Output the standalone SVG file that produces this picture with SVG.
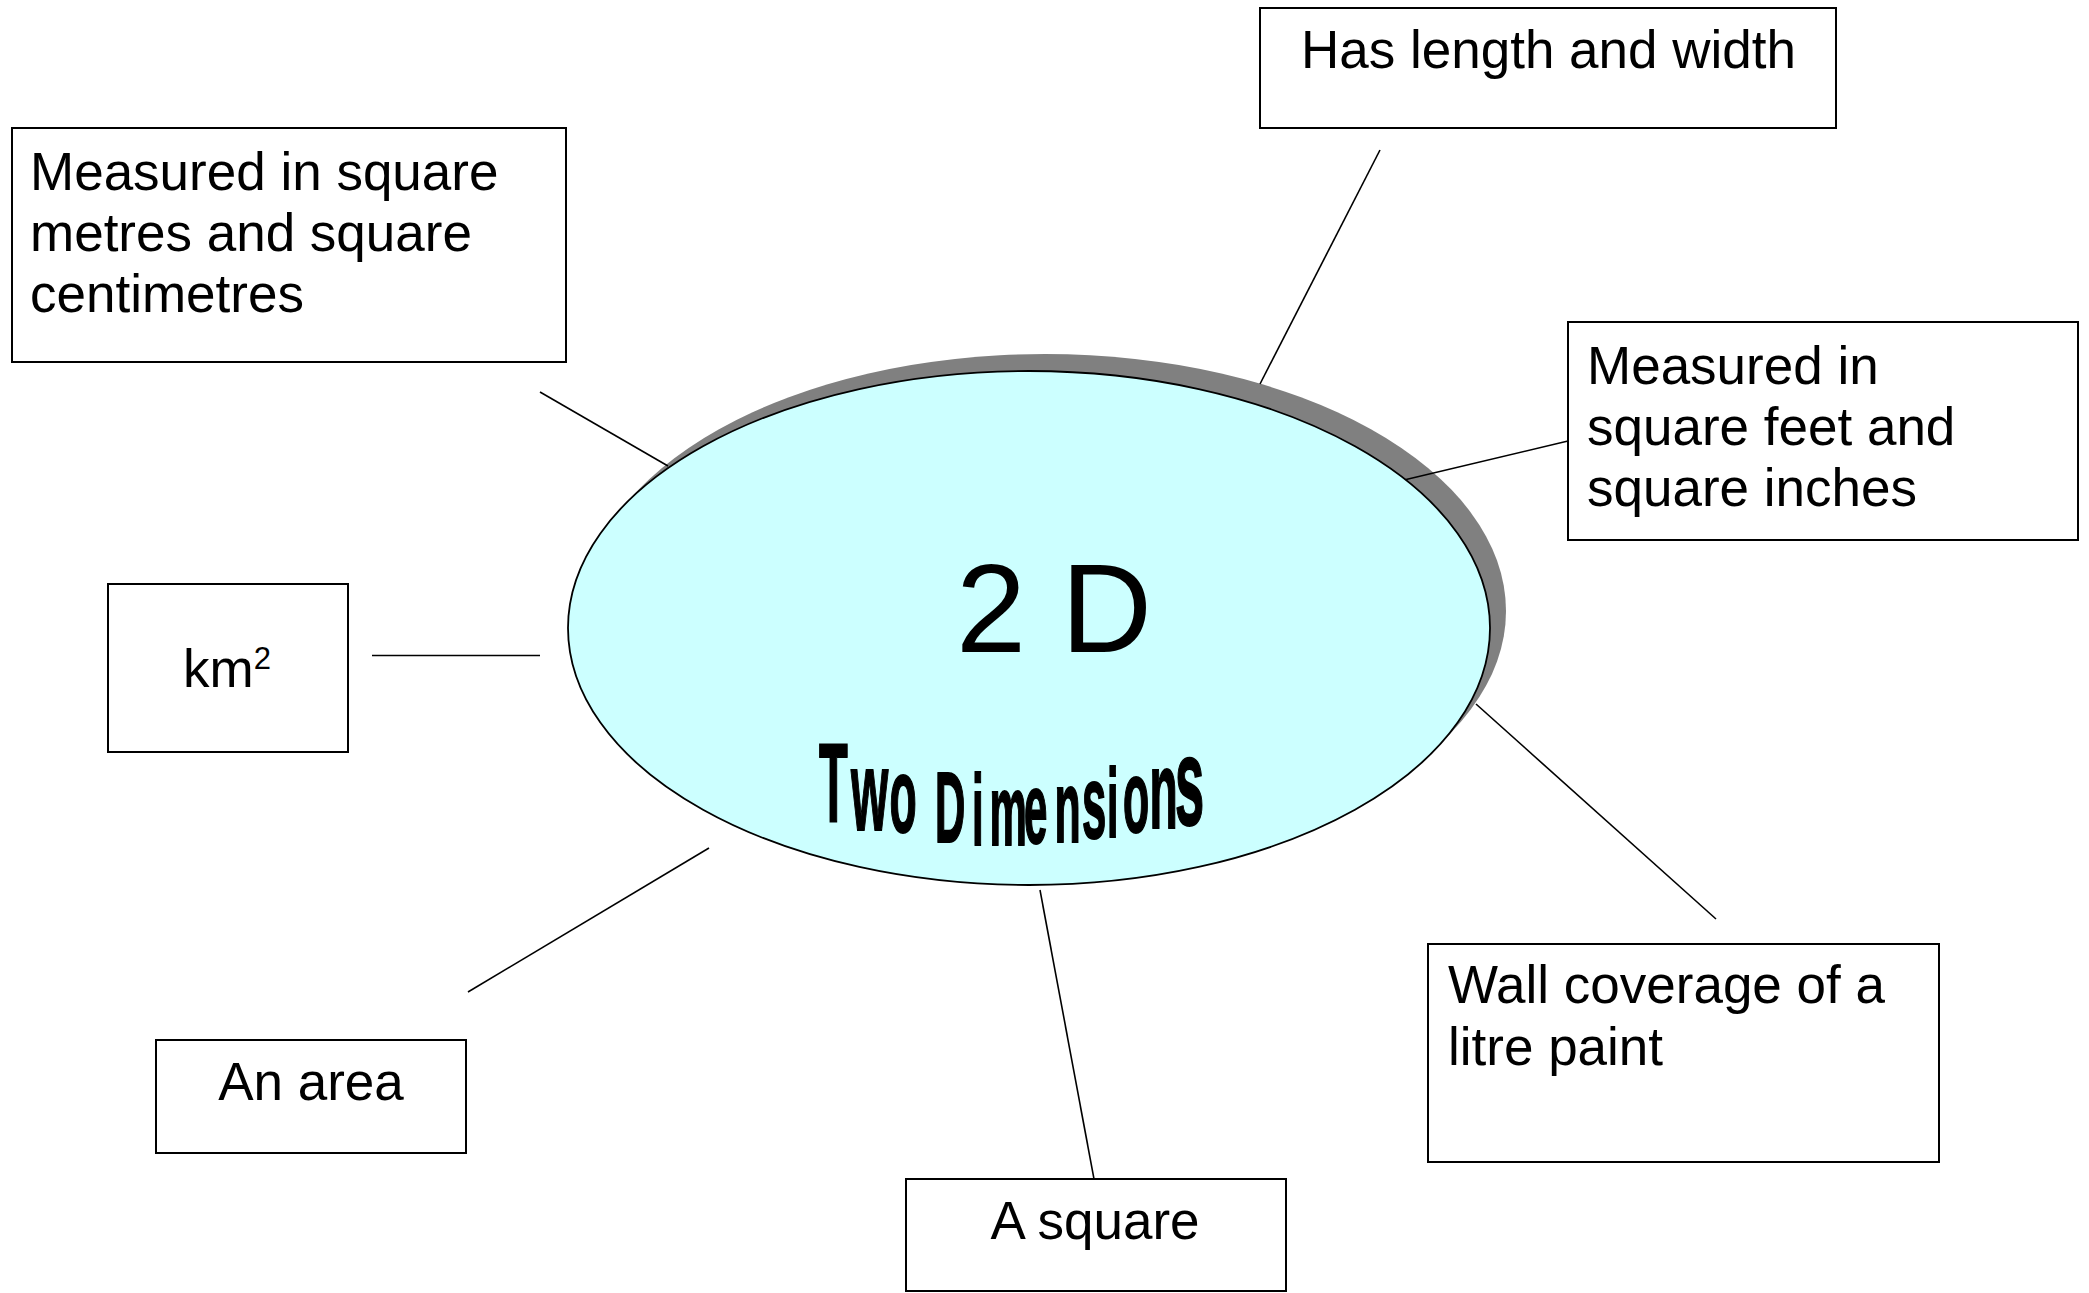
<svg xmlns="http://www.w3.org/2000/svg" width="2089" height="1293" viewBox="0 0 2089 1293">
<style>
.box{fill:#ffffff;stroke:#000000;stroke-width:2}
.lbl{font-family:"Liberation Sans",Arial,sans-serif;font-size:53px;fill:#000000}
.conn line{stroke:#000000;stroke-width:1.6}
.wa{font-family:"Liberation Sans",Arial,sans-serif;font-weight:bold;fill:#000000;stroke:#000000;stroke-width:2}
</style>
<rect x="0" y="0" width="2089" height="1293" fill="#ffffff"/>
<ellipse id="centre-shadow" cx="1045" cy="611" rx="461" ry="257" fill="#808080"/>
<g id="connectors" class="conn">
<line x1="540" y1="392" x2="668" y2="466"/>
<line x1="1380" y1="150" x2="1260" y2="384"/>
<line x1="1568" y1="441" x2="1404" y2="480"/>
<line x1="372" y1="655.5" x2="540" y2="655.5"/>
<line x1="468" y1="992" x2="709" y2="848"/>
<line x1="1040" y1="890" x2="1094" y2="1179"/>
<line x1="1476" y1="704" x2="1716" y2="919"/>
</g>
<g id="centre">
<ellipse cx="1029" cy="628" rx="461" ry="257" fill="#ccffff" stroke="#000000" stroke-width="1.8"/>
<text x="1054" y="652" text-anchor="middle" font-family="Liberation Sans, Arial, sans-serif" font-size="126">2 D</text>
<g transform="scale(0.42 1)">
<text class="wa"><tspan x="1950" y="821" font-size="112">T</tspan><tspan x="2026" y="830" font-size="114">w</tspan><tspan x="2118" y="832" font-size="106">o</tspan> <tspan x="2226" y="842" font-size="100">D</tspan><tspan x="2314" y="845" font-size="100">i</tspan><tspan x="2356" y="845" font-size="100">m</tspan><tspan x="2438" y="843" font-size="100">e</tspan><tspan x="2510.7" y="842" font-size="102">n</tspan><tspan x="2576" y="838" font-size="104">s</tspan><tspan x="2635.7" y="837" font-size="98">i</tspan><tspan x="2674" y="832" font-size="102">o</tspan><tspan x="2737" y="828" font-size="110">n</tspan><tspan x="2797.6" y="825" font-size="125">s</tspan></text>
</g>
</g>
<g id="node-metres">
<rect class="box" x="12" y="128" width="554" height="234"/>
<text class="lbl" x="30" y="190">Measured in square</text>
<text class="lbl" x="30" y="251">metres and square</text>
<text class="lbl" x="30" y="312">centimetres</text>
</g>
<g id="node-length">
<rect class="box" x="1260" y="8" width="576" height="120"/>
<text class="lbl" x="1548.5" y="68" text-anchor="middle">Has length and width</text>
</g>
<g id="node-feet">
<rect class="box" x="1568" y="322" width="510" height="218"/>
<text class="lbl" x="1587" y="384">Measured in</text>
<text class="lbl" x="1587" y="445">square feet and</text>
<text class="lbl" x="1587" y="506">square inches</text>
</g>
<g id="node-km2">
<rect class="box" x="108" y="584" width="240" height="168"/>
<text class="lbl" x="183" y="687">km<tspan font-size="31" dy="-18">2</tspan></text>
</g>
<g id="node-area">
<rect class="box" x="156" y="1040" width="310" height="113"/>
<text class="lbl" x="311" y="1100" text-anchor="middle">An area</text>
</g>
<g id="node-square">
<rect class="box" x="906" y="1179" width="380" height="112"/>
<text class="lbl" x="1095" y="1239" text-anchor="middle">A square</text>
</g>
<g id="node-wall">
<rect class="box" x="1428" y="944" width="511" height="218"/>
<text class="lbl" x="1448" y="1003">Wall coverage of a</text>
<text class="lbl" x="1448" y="1065">litre paint</text>
</g>
</svg>
